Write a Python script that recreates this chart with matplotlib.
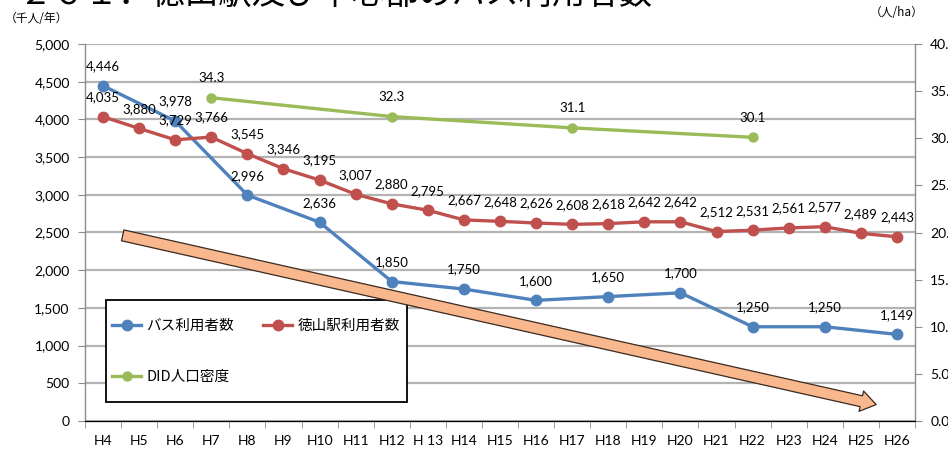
import matplotlib
matplotlib.use('Agg')
import matplotlib.pyplot as plt
from matplotlib.patches import FancyArrowPatch, Rectangle
from matplotlib.ticker import FuncFormatter

plt.rcParams['font.family'] = ['Lato', 'Noto Sans CJK JP', 'DejaVu Sans']

# 年度（平成）
years = ['H4', 'H5', 'H6', 'H7', 'H8', 'H9', 'H10', 'H11', 'H12', 'H13', 'H14', 'H15',
         'H16', 'H17', 'H18', 'H19', 'H20', 'H21', 'H22', 'H23', 'H24', 'H25', 'H26']
year_labels = ['H4', 'H5', 'H6', 'H7', 'H8', 'H9', 'H10', 'H11', 'H12', 'H 13', 'H14', 'H15',
               'H16', 'H17', 'H18', 'H19', 'H20', 'H21', 'H22', 'H23', 'H24', 'H25', 'H26']

# 徳山駅利用者数（千人/年）
station = [4035, 3880, 3729, 3766, 3545, 3346, 3195, 3007, 2880, 2795, 2667, 2648,
           2626, 2608, 2618, 2642, 2642, 2512, 2531, 2561, 2577, 2489, 2443]

# バス利用者数（千人/年）
bus_years = ['H4', 'H6', 'H8', 'H10', 'H12', 'H14', 'H16', 'H18', 'H20', 'H22', 'H24', 'H26']
bus = [4446, 3978, 2996, 2636, 1850, 1750, 1600, 1650, 1700, 1250, 1250, 1149]

# DID人口密度（人/ha）
did_years = ['H7', 'H12', 'H17', 'H22']
did = [34.3, 32.3, 31.1, 30.1]

BLUE = '#4F81BD'
RED = '#C0504D'
GREEN = '#9BBB59'
GRID = '#B3B3B3'
AXIS = '#8C8C8C'

pos = {y: i for i, y in enumerate(years)}

fig = plt.figure(figsize=(9.48, 4.53), dpi=100)
ax = fig.add_axes([85 / 948, 1 - 421 / 453, 830 / 948, 377 / 453])
ax2 = ax.twinx()

bx = [pos[y] for y in bus_years]
sx = [pos[y] for y in years]
dx = [pos[y] for y in did_years]

l_bus, = ax.plot(bx, bus, color=BLUE, lw=2.4, marker='o', ms=7.5, zorder=3, label='バス利用者数')
l_st, = ax.plot(sx, station, color=RED, lw=2.4, marker='o', ms=7.5, zorder=3, label='徳山駅利用者数')
l_did, = ax2.plot(dx, did, color=GREEN, lw=2.4, marker='o', ms=6.5, zorder=3, label='DID人口密度')

lab = dict(textcoords='offset points', xytext=(0, 14), ha='center', va='center', fontsize=9.5)
for x, v in zip(bx, bus):
    ax.annotate(f'{v:,}', (x, v), **lab)
for x, v in zip(sx, station):
    ax.annotate(f'{v:,}', (x, v), **lab)
for x, v in zip(dx, did):
    ax2.annotate(f'{v:.1f}', (x, v), **lab)

# axes
ax.set_xlim(-0.5, len(years) - 0.5)
ax.set_ylim(0, 5000)
ax2.set_ylim(0, 40)
ax.set_yticks(range(0, 5001, 500))
ax2.set_yticks(range(0, 41, 5))
ax.yaxis.set_major_formatter(FuncFormatter(lambda v, p: f'{int(v):,}'))
ax2.yaxis.set_major_formatter(FuncFormatter(lambda v, p: f'{v:.1f}'))
ax.set_xticks(range(len(years)))
ax.set_xticklabels(year_labels)
ax.set_xticks([i - 0.5 for i in range(len(years) + 1)], minor=True)
ax.tick_params(axis='x', which='major', length=0, pad=10, labelsize=10)
ax.tick_params(axis='x', which='minor', length=5, color=AXIS, direction='out')
ax.tick_params(axis='y', length=5, color=AXIS, pad=6, labelsize=10)
ax2.tick_params(axis='y', length=5, color=AXIS, pad=6, labelsize=10)

ax.grid(axis='y', color=GRID, lw=1.6)
ax.set_axisbelow(True)
for s in ['top']:
    ax.spines[s].set_visible(False)
    ax2.spines[s].set_visible(False)
ax2.spines['left'].set_visible(False)
ax.spines['right'].set_visible(False)
for a, s in [(ax, 'left'), (ax, 'bottom'), (ax2, 'right')]:
    a.spines[s].set_color(AXIS)
    a.spines[s].set_linewidth(1.0)

# legend box
ax2.add_patch(Rectangle(((106 - 85) / 830, (421 - 402) / 377), (407 - 106) / 830, 102 / 377,
                        transform=ax2.transAxes, facecolor='white', edgecolor='black',
                        lw=1.3, zorder=1))
ax2.legend([l_bus, l_did, l_st], ['バス利用者数', 'DID人口密度', '徳山駅利用者数'],
           ncol=2, loc='upper left', bbox_to_anchor=((112 - 85) / 830, (421 - 319) / 377),
           frameon=False, borderpad=0, borderaxespad=0,
           handlelength=2.0, handletextpad=0.35, columnspacing=2.0, labelspacing=2.55,
           prop={'family': ['Noto Sans CJK JP'], 'size': 10.5})

# decreasing trend arrow
arrow = FancyArrowPatch((0.47, 2470), (21.5, 210), transform=ax.transData,
                        arrowstyle='simple,head_length=1.1,head_width=1.5,tail_width=0.8',
                        mutation_scale=10, facecolor='#F8B78C', edgecolor='#3A2A20',
                        lw=0.9, zorder=2)
ax2.add_patch(arrow)

jp = ['Noto Sans CJK JP']
fig.text(18 / 948, 1 - 4 / 453, '２６１．徳山駅及び中心部のバス利用者数', fontsize=24,
         family=jp, va='baseline', ha='left')
fig.text(5 / 948, 1 - 19 / 453, '（千人/年）', fontsize=8.5, family=jp, va='center', ha='left')
fig.text(870 / 948, 1 - 13 / 453, '（人/ha）', fontsize=8.5, family=jp, va='center', ha='left')

fig.savefig('out.png', dpi=100)
